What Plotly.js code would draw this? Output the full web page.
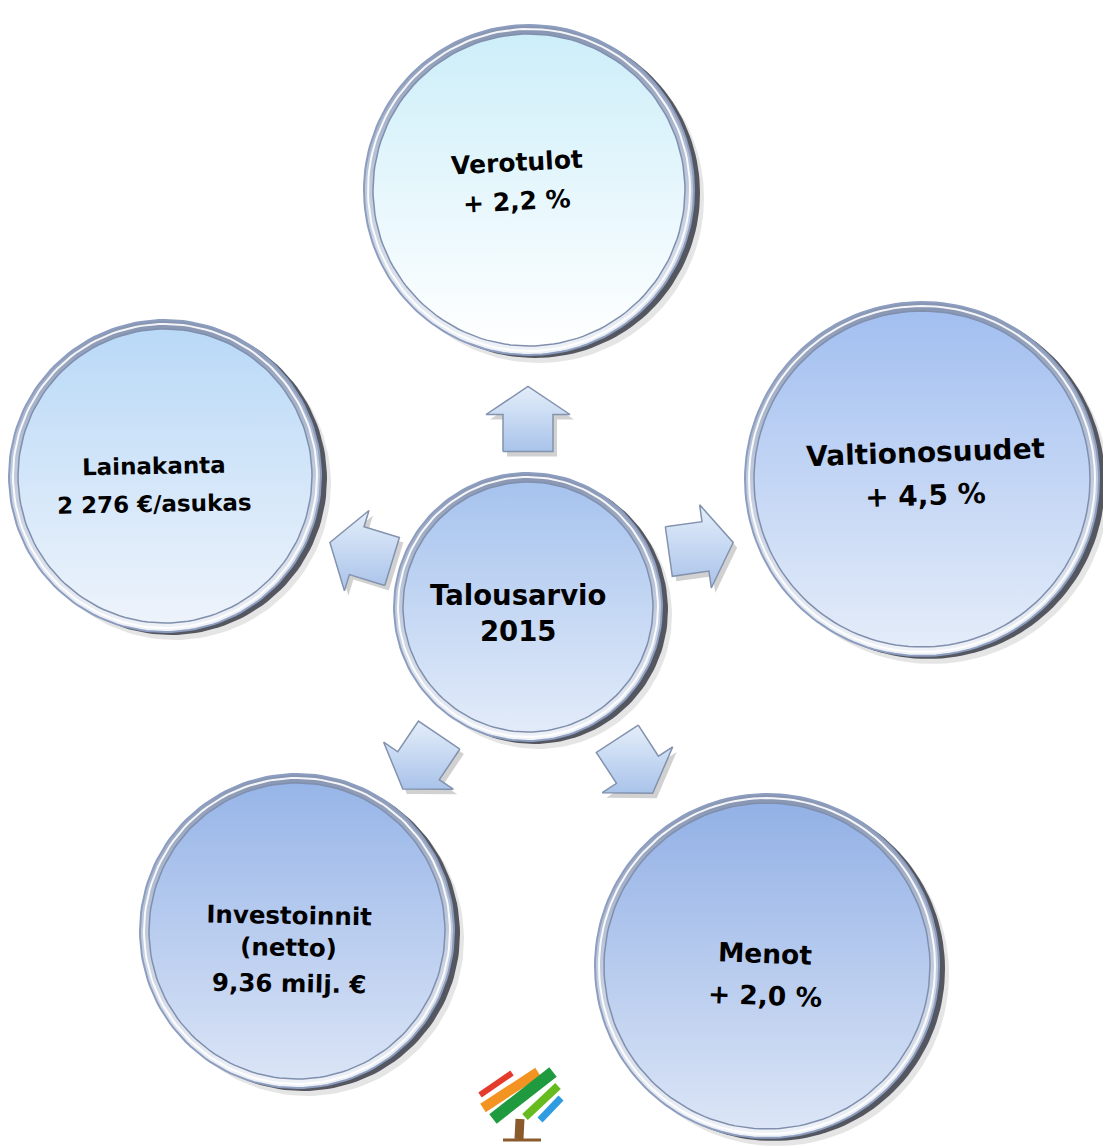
<!DOCTYPE html>
<html>
<head>
<meta charset="utf-8">
<script src="https://cdn.plot.ly/plotly-3.0.1.min.js"></script>
<style>
  html, body { margin: 0; padding: 0; background: #ffffff; }
  #chart { width: 1103px; height: 1148px; }
</style>
</head>
<body>
<div id="chart"></div>
<script>
// ---------- DATA ----------
const centerLabel = 'Talousarvio<br>2015';
const nodeLabels = ['Verotulot', 'Valtionosuudet', 'Menot', 'Investoinnit<br>(netto)', 'Lainakanta'];
const nodeValues = ['+ 2,2 %', '+ 4,5 %', '+ 2,0 %', '9,36 milj. €', '2 276 €/asukas'];

// ---------- LAYOUT / STYLE (positions in pixel-like axis units) ----------
const W = 1103, H = 1148;
const FONT = 'Verdana, "DejaVu Sans", sans-serif';

const hub = { cx: 528, cy: 607, r: 134, tx: 518, ly: 597, vy: 629, fs: 27.5, ang: 0,
              top: '#a6c3ee', bot: '#e2ebf9' };

const nodeGeom = [
  { cx: 529, cy: 190, r: 165, tx: 517, ly: 162, vy: 201, fs: 25, ang: -3, top: '#cdeef9', bot: '#ffffff' },
  { cx: 922, cy: 479, r: 177, tx: 925, ly: 452, vy: 495, fs: 28, ang: -2, top: '#a2bff0', bot: '#e4ecf9' },
  { cx: 767, cy: 966, r: 172, tx: 765, ly: 953, vy: 995, fs: 26.5, ang: 2,  top: '#93b1e6', bot: '#dbe5f6' },
  { cx: 297, cy: 931, r: 157, tx: 289, ly: 931, vy: 983, fs: 24.5, ang: 1,  top: '#97b5e8', bot: '#dae4f6' },
  { cx: 165, cy: 476, r: 156, tx: 154, ly: 466, vy: 504, fs: 23, ang: -1, top: '#b9d9f7', bot: '#edf3fb' }
];

const arrowGeom = [
  { cx: 528, cy: 419, ang: -90 },
  { cx: 701, cy: 547, ang: -8 },
  { cx: 635, cy: 766, ang: 57 },
  { cx: 421, cy: 762, ang: 124 },
  { cx: 361, cy: 552, ang: 197 }
];
const ARROW = { L: 65, Lb: 37, wb: 25, wh: 42 };

// ---------- helpers ----------
function circlePts(cx, cy, r, n) {
  n = n || 160;
  const x = [], y = [];
  for (let i = 0; i <= n; i++) {
    const t = 2 * Math.PI * i / n;
    x.push(cx + r * Math.cos(t));
    y.push(cy + r * Math.sin(t));
  }
  return { x, y };
}
function arrowPts(cx, cy, angDeg, dx, dy) {
  dx = dx || 0; dy = dy || 0;
  const a = angDeg * Math.PI / 180, c = Math.cos(a), s = Math.sin(a);
  const h = ARROW.L / 2, sh = -h + ARROW.Lb;
  const loc = [[-h, -ARROW.wb], [sh, -ARROW.wb], [sh, -ARROW.wh], [h, 0],
               [sh, ARROW.wh], [sh, ARROW.wb], [-h, ARROW.wb], [-h, -ARROW.wb]];
  return {
    x: loc.map(p => cx + dx + p[0] * c - p[1] * s),
    y: loc.map(p => cy + dy + p[0] * s + p[1] * c)
  };
}
function fillTrace(pts, fillcolor, lineColor, lineWidth, grad) {
  const t = {
    type: 'scatter', mode: 'lines', x: pts.x, y: pts.y,
    fill: 'toself', fillcolor: fillcolor,
    line: { color: lineColor || 'rgba(0,0,0,0)', width: lineWidth || 0 },
    hoverinfo: 'skip', showlegend: false
  };
  if (grad) t.fillgradient = grad;
  return t;
}
function lineTrace(pts, color, width) {
  return { type: 'scatter', mode: 'lines', x: pts.x, y: pts.y,
           line: { color: color, width: width }, hoverinfo: 'skip', showlegend: false };
}

const traces = [];
const annotations = [];

function addDisc(g) {
  // soft shadow + dark crescent shadow (right side)
  traces.push(fillTrace(circlePts(g.cx + 10, g.cy + 8, g.r), 'rgba(0,0,0,0.10)'));
  traces.push(fillTrace(circlePts(g.cx + 6, g.cy + 3, g.r), 'rgba(28,32,45,0.72)'));
  // metallic rim
  traces.push(fillTrace(circlePts(g.cx, g.cy, g.r), '#b7c3d8', '#8c9dc0', 2, {
    type: 'vertical', start: g.cy - g.r, stop: g.cy + g.r,
    colorscale: [[0, '#8795b2'], [0.45, '#bcc7da'], [1, '#f0f3f8']]
  }));
  traces.push(lineTrace(circlePts(g.cx, g.cy, g.r - 4), 'rgba(255,255,255,0.9)', 2));
  // inner face
  const ri = g.r - 9;
  traces.push(fillTrace(circlePts(g.cx, g.cy, ri), g.bot, '#7f8fad', 1.5, {
    type: 'vertical', start: g.cy - ri, stop: g.cy + ri,
    colorscale: [[0, g.top], [1, g.bot]]
  }));
}

// arrows
arrowGeom.forEach(a => {
  traces.push(fillTrace(arrowPts(a.cx, a.cy, a.ang, 4, 5), 'rgba(0,0,0,0.18)'));
  const p = arrowPts(a.cx, a.cy, a.ang);
  const y0 = Math.min.apply(null, p.y), y1 = Math.max.apply(null, p.y);
  traces.push(fillTrace(p, '#c5d8f3', '#8392ad', 1.5, {
    type: 'vertical', start: y0, stop: y1,
    colorscale: [[0, '#e4eefa'], [1, '#a9c3ea']]
  }));
});

// satellite nodes + hub
nodeGeom.forEach(addDisc);
addDisc(hub);

// texts
nodeGeom.forEach((g, i) => {
  annotations.push({
    x: g.tx, y: g.ly, xref: 'x', yref: 'y', text: '<b>' + nodeLabels[i] + '</b>', showarrow: false,
    textangle: g.ang, font: { family: FONT, size: g.fs, color: '#000000' },
    xanchor: 'center', yanchor: 'middle'
  });
  annotations.push({
    x: g.tx, y: g.vy, xref: 'x', yref: 'y', text: '<b>' + nodeValues[i] + '</b>', showarrow: false,
    textangle: g.ang, font: { family: FONT, size: g.fs, color: '#000000' },
    xanchor: 'center', yanchor: 'middle'
  });
});
annotations.push({
  x: hub.tx, y: (hub.ly + hub.vy) / 2, xref: 'x', yref: 'y', text: '<b>' + centerLabel + '</b>', showarrow: false,
  font: { family: FONT, size: hub.fs, color: '#000000' },
  xanchor: 'center', yanchor: 'middle'
});

// logo (decorative brush strokes)
const logoStrokes = [
  { x0: 480, y0: 1095, x1: 512, y1: 1073, c: '#e53b2c', w: 6 },
  { x0: 483, y0: 1108, x1: 538, y1: 1072, c: '#f39322', w: 10 },
  { x0: 493, y0: 1119, x1: 553, y1: 1072, c: '#1f9a3f', w: 12 },
  { x0: 525, y0: 1117, x1: 558, y1: 1086, c: '#66bb1f', w: 8 },
  { x0: 540, y0: 1120, x1: 561, y1: 1098, c: '#2f9be0', w: 7 },
  { x0: 520, y0: 1119, x1: 519, y1: 1139, c: '#8b5a2b', w: 9 },
  { x0: 503, y0: 1140, x1: 541, y1: 1140, c: '#8b5a2b', w: 3 }
];
const shapes = logoStrokes.map(s => ({
  type: 'line', xref: 'x', yref: 'y', x0: s.x0, y0: s.y0, x1: s.x1, y1: s.y1,
  line: { color: s.c, width: s.w }, layer: 'above'
}));

const layout = {
  width: W, height: H,
  margin: { l: 0, r: 0, t: 0, b: 0, pad: 0 },
  paper_bgcolor: '#ffffff', plot_bgcolor: '#ffffff',
  xaxis: { range: [0, W], visible: false, fixedrange: true },
  yaxis: { range: [H, 0], visible: false, fixedrange: true },
  showlegend: false,
  annotations: annotations,
  shapes: shapes,
  hovermode: false
};

Plotly.newPlot('chart', traces, layout, { displayModeBar: false, staticPlot: true });
</script>
</body>
</html>
